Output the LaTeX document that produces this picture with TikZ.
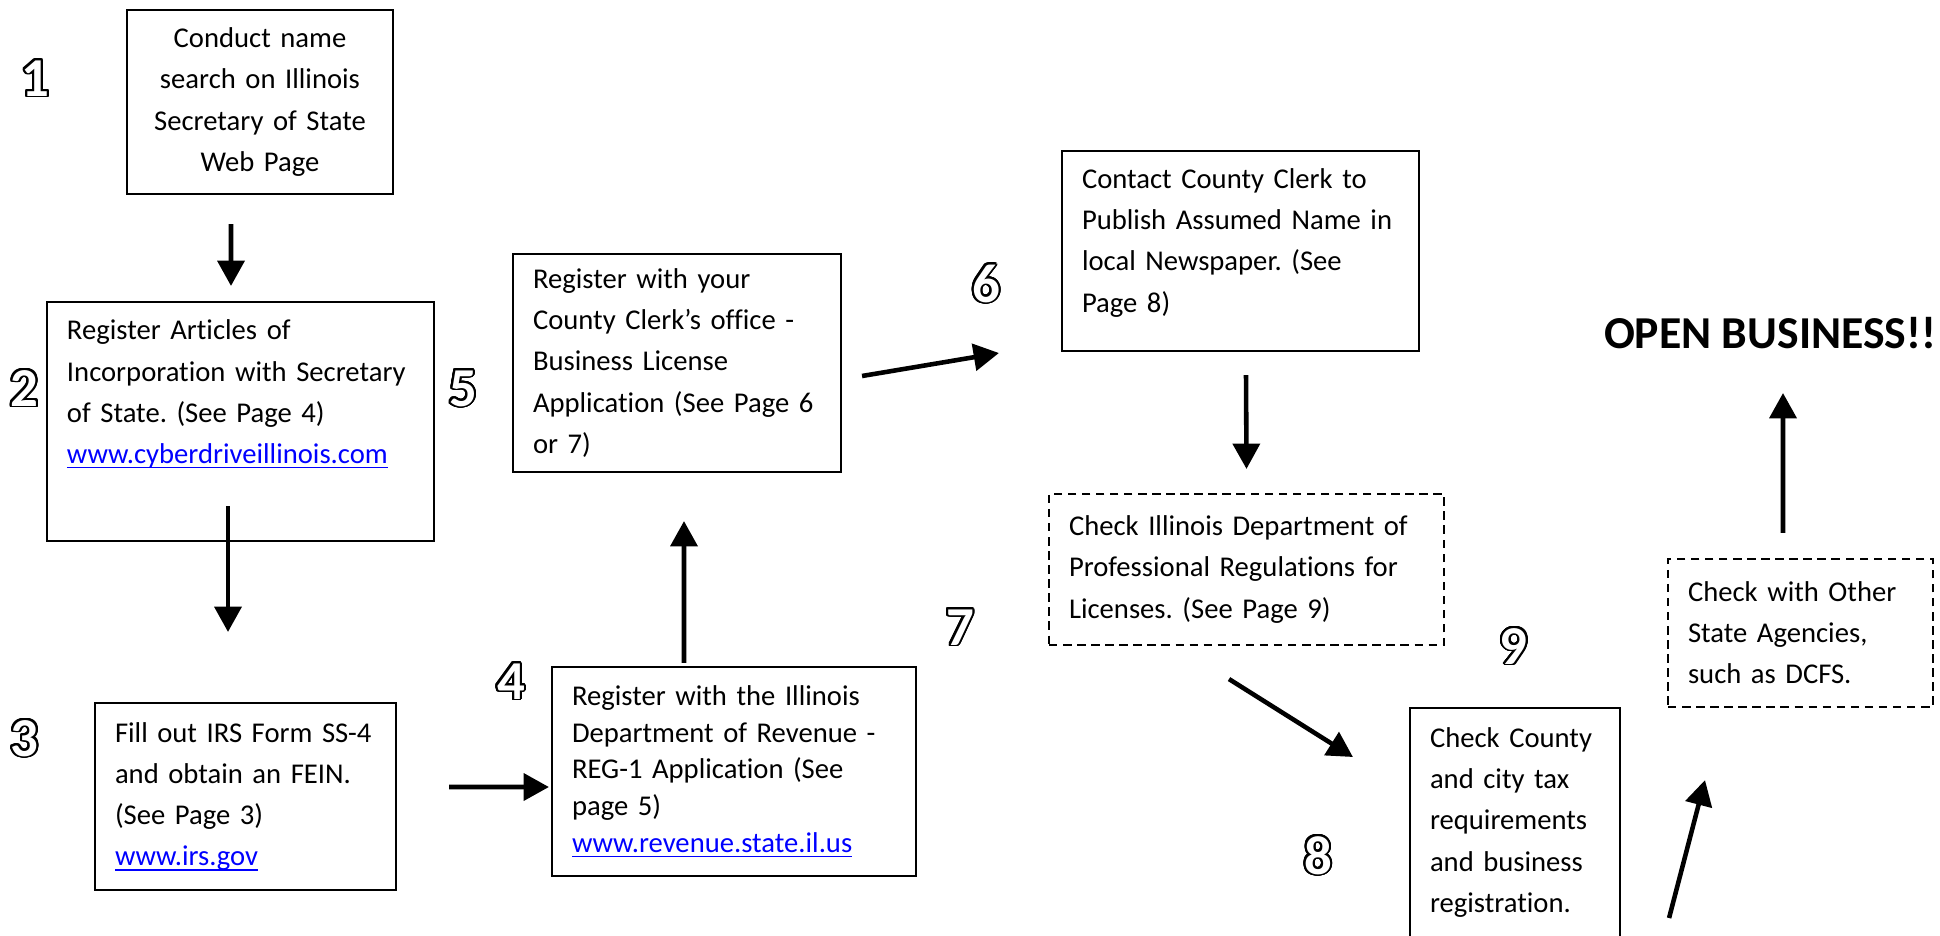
\documentclass[tikz,border=0pt]{standalone}
\usepackage{fontspec}
\setmainfont{Carlito}[Ligatures=NoCommon]
\usepackage{contour}
\usetikzlibrary{arrows.meta}
\definecolor{linkblue}{RGB}{0,0,255}
\contourlength{0.55pt}
\contournumber{32}
\frenchspacing
\newcommand\weblink[1]{\textcolor{linkblue}{\setbox0\hbox{#1}\rlap{\rule[-1.4pt]{\wd0}{0.45pt}}\box0}}
\newcommand\stepnum[1]{\textcolor{white}{\contour{black}{#1}}}
\tikzset{
  stepbox/.style={draw, line width=0.6pt, rectangle, align=left, inner xsep=0.2cm, inner ysep=0pt, font=\fontsize{8.15}{11.7}\selectfont},
  checkbox/.style={stepbox, dash pattern=on 2.4pt off 1.6pt},
  stepno/.style={anchor=base, inner sep=0pt, font=\fontsize{15.6}{18}\selectfont\bfseries},
  flow/.style={->, line width=1.3pt}
}

\begin{document}
\begin{tikzpicture}[>={Triangle[length=7.2pt,width=7.6pt]}]
\useasboundingbox (0,0) rectangle (19.40,-9.35);

\node [stepbox, align=center, text width=2.26cm, minimum height=1.84cm, name=search] at (2.60,-1.02) {Conduct name\\search on Illinois\\Secretary of State\\Web Page};
\node [stepbox, text width=3.47cm, minimum height=2.39cm, name=articles] at (2.405,-4.215) {Register Articles of\\\mbox{Incorporation with Secretary}\\of State. (See Page 4)\\\weblink{www.cyberdriveillinois.com}\\[0.185cm]\mbox{}};
\node [stepbox, text width=2.61cm, minimum height=1.87cm, name=irs] at (2.455,-7.965) {\mbox{Fill out IRS Form SS-4}\\and obtain an FEIN.\\(See Page 3)\\\weblink{www.irs.gov}};
\node [stepbox, text width=3.24cm, minimum height=2.09cm, font=\fontsize{8.15}{10.45}\selectfont, name=revenue] at (7.34,-7.715) {Register with the Illinois\\Department of Revenue -\\\mbox{REG-1 Application (See}\\page 5)\\\weblink{www.revenue.state.il.us}};
\node [stepbox, text width=2.88cm, minimum height=2.18cm, name=county] at (6.77,-3.63) {Register with your\\\mbox{County Clerk’s office -}\\Business License\\\mbox{Application (See Page 6}\\or 7)};
\node [stepbox, text width=3.17cm, minimum height=2.0cm, name=notice] at (12.405,-2.51) {\mbox{Contact County Clerk to}\\\mbox{Publish Assumed Name in}\\local Newspaper. (See\\Page 8)\\[-0.2cm]\mbox{}};
\node [checkbox, text width=3.55cm, minimum height=1.51cm, name=licence] at (12.465,-5.695) {\mbox{Check Illinois Department of}\\\mbox{Professional Regulations for}\\Licenses. (See Page 9)};
\node [stepbox, text width=1.70cm, minimum height=2.29cm, name=tax] at (15.15,-8.225) {Check County\\and city tax\\requirements\\and business\\registration.};
\node [checkbox, text width=2.25cm, minimum height=1.48cm, name=agencies] at (18.005,-6.33) {Check with Other\\State Agencies,\\such as DCFS.};
\node [anchor=base, inner sep=0pt, font=\fontsize{13}{15}\selectfont\bfseries, name=open] at (17.70,-3.48) {OPEN BUSINESS!!};

\node [stepno, name=n1] at (0.355,-0.96) {\stepnum{1}};
\node [stepno, name=n2] at (0.245,-4.06) {\stepnum{2}};
\node [stepno, name=n3] at (0.245,-7.56) {\stepnum{3}};
\node [stepno, name=n4] at (5.11,-6.99) {\stepnum{4}};
\node [stepno, name=n5] at (4.63,-4.06) {\stepnum{5}};
\node [stepno, name=n6] at (9.86,-3.02) {\stepnum{6}};
\node [stepno, name=n7] at (9.60,-6.45) {\stepnum{7}};
\node [stepno, name=n8] at (13.18,-8.74) {\stepnum{8}};
\node [stepno, name=n9] at (15.135,-6.64) {\stepnum{9}};

\draw [flow] ([shift={(-0.29,-0.29)}]search.south) -- ([shift={(-0.095,0.15)}]articles.north);
\draw [flow] ([shift={(-0.125,0.36)}]articles.south) -- ([shift={(-0.175,0.70)}]irs.north);
\draw [flow] ([shift={(0.52,0.095)}]irs.east) -- ([shift={(-0.02,-0.155)}]revenue.west);
\draw [flow] ([shift={(-0.50,0.03)}]revenue.north) -- ([shift={(0.07,-0.48)}]county.south);
\draw [flow] ([shift={(0.20,-0.13)}]county.east) -- ([shift={(-0.62,-1.02)}]notice.west);
\draw [flow] ([shift={(0.055,-0.23)}]notice.south) -- ([shift={(0,0.24)}]licence.north);
\draw [flow] ([shift={(-0.175,-0.33)}]licence.south) -- ([shift={(-0.56,0.655)}]tax.west);
\draw [flow] ([shift={(0.48,-0.955)}]tax.east) -- ([shift={(-0.955,-0.72)}]agencies.south);
\draw [flow] ([shift={(-0.175,0.25)}]agencies.north) -- ([shift={(0.13,-0.45)}]open.base);
\end{tikzpicture}
\end{document}
